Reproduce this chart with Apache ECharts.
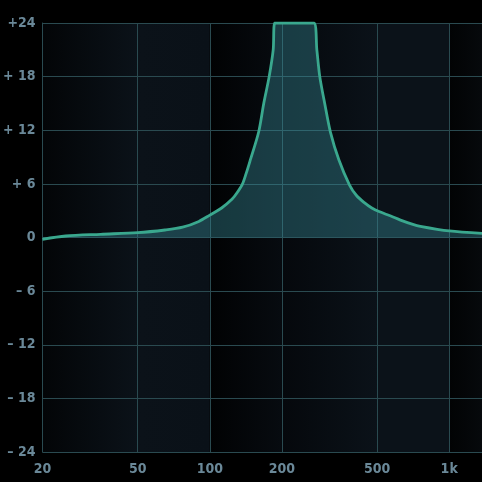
<!DOCTYPE html>
<html lang="en">
<head>
  <meta charset="UTF-8">
  <title>EQ Response</title>
  <script src="https://cdn.jsdelivr.net/npm/echarts@6.0.0/dist/echarts.min.js"></script>
  <style>
    html, body { margin: 0; padding: 0; background: #000; }
    #main { width: 482px; height: 482px; }
  </style>
</head>
<body>
  <div id="main"></div>
  <script type="text/javascript">
    // frequency (Hz) and gain (dB)
    var freqs = [20, 25, 35, 50, 65, 77, 90, 100, 112, 124, 130, 137, 142, 147, 160, 168, 177, 184, 187,
                 272, 280, 288, 302, 319, 346, 383, 410, 442, 475, 509, 570, 626, 700, 758, 1000, 1371];
    var gains = [-0.2, 0.17, 0.36, 0.54, 0.84, 1.15, 1.8, 2.5, 3.3, 4.3, 5.0, 6.0, 7.2, 8.5, 11.8, 15, 18, 21, 24,
                 24, 21, 18, 15, 11.8, 8.7, 5.9, 4.7, 3.9, 3.3, 2.9, 2.4, 1.95, 1.5, 1.25, 0.73, 0.47];

    var freqTicks = [20, 50, 100, 200, 500, 1000];
    var freqTickLabels = ['20', '50', '100', '200', '500', '1k'];
    var gainTicks = [-24, -18, -12, -6, 0, 6, 12, 18, 24];
    var gainTickLabels = ['\u2013 24', '\u2013 18', '\u2013 12', '\u2013 6', '0', '+ 6', '+ 12', '+ 18', '+24'];

    // background bands between grid lines (left colour, right colour)
    var bandEdges = [20, 50, 100, 200, 500, 1000, 1371];
    var bandColors = [
      ['#030507', '#0b1219'],
      ['#0b1219', '#0a1118'],
      ['#010203', '#070b10'],
      ['#05080c', '#0b1219'],
      ['#0b1219', '#0b1219'],
      ['#020304', '#06090c']
    ];

    var gridColor = '#2a4a50';
    var labelColor = '#6a8898';
    var font = '"Liberation Sans Narrow", "DejaVu Sans Condensed", sans-serif';

    var myChart = echarts.init(document.getElementById('main'));

    var points = freqs.map(function (f, i) { return [f, gains[i]]; });

    var bands = [];
    for (var i = 0; i < bandColors.length; i++) {
      bands.push([{
        xAxis: bandEdges[i],
        itemStyle: {
          color: new echarts.graphic.LinearGradient(0, 0, 1, 0, [
            { offset: 0, color: bandColors[i][0] },
            { offset: 1, color: bandColors[i][1] }
          ])
        }
      }, { xAxis: bandEdges[i + 1] }]);
    }

    var option = {
      backgroundColor: '#000',
      animation: false,
      grid: { left: 39, right: 0, top: 23, bottom: 30 },
      xAxis: {
        type: 'log',
        min: 20,
        max: 1371,
        z: 3,
        axisLine: { show: false },
        axisTick: { show: false },
        splitLine: { show: false },
        axisLabel: {
          customValues: freqTicks,
          formatter: function (v) {
            var k = freqTicks.indexOf(Math.round(v));
            return k >= 0 ? freqTickLabels[k] : '';
          },
          color: labelColor,
          fontFamily: font,
          fontWeight: 'bold',
          fontSize: 14,
          margin: 10
        }
      },
      yAxis: {
        type: 'value',
        min: -24,
        max: 24,
        interval: 6,
        z: 3,
        axisLine: { show: true, lineStyle: { color: gridColor, width: 1 } },
        axisTick: { show: false },
        splitLine: { show: true, lineStyle: { color: gridColor, width: 1 } },
        axisLabel: {
          formatter: function (v) {
            return gainTickLabels[gainTicks.indexOf(v)];
          },
          color: labelColor,
          fontFamily: font,
          fontWeight: 'bold',
          fontSize: 14,
          margin: 7
        }
      },
      series: [{
        // background bands only
        type: 'line',
        data: [],
        z: 1,
        markArea: {
          silent: true,
          data: bands
        }
      }, {
        type: 'line',
        data: points,
        smooth: 0.3,
        showSymbol: false,
        z: 5,
        lineStyle: { color: '#3aa88e', width: 2.8 },
        areaStyle: { color: 'rgba(56, 142, 156, 0.55)' },
        markLine: {
          silent: true,
          symbol: 'none',
          label: { show: false },
          lineStyle: { color: gridColor, width: 1, type: 'solid' },
          data: freqTicks.slice(1).map(function (f) { return { xAxis: f }; })
        }
      }]
    };

    myChart.setOption(option);
  </script>
</body>
</html>
